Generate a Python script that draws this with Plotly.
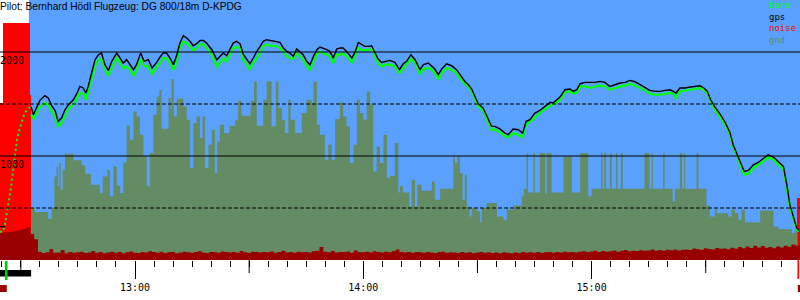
import numpy as np
import plotly.graph_objects as go

# ---------------- data (time = minutes after 12:00, altitude in m) ----------------
t_start, t_end = 24.52, 234.77
hour_ticks = [60, 120, 180]
hour_labels = ["13:00", "14:00", "15:00"]
half_hour_ticks = [30, 90, 150, 210]

title_text = "Pilot: Bernhard Hödl Flugzeug: DG 800/18m D-KPDG"
legend_items = ["baro", "gps", "noise", "gnd"]

grid_solid = [1000, 2000]
grid_dashed = [500, 1500]
alt_labels = [1000, 2000]          # 500 / 1500 labels are hidden under the engine block

flight_window = [32.1, 234.77]     # blue sky background

# self-launch climb (baro, dotted)
climb_t = [24.5, 25.3, 25.8, 26.4, 26.9, 27.4, 27.9, 28.5, 29.0, 29.5, 30.0, 30.6, 31.1, 31.9, 32.4]
climb_baro = [272, 272, 339, 464, 580, 695, 849, 1012, 1157, 1234, 1301, 1368, 1416, 1455, 1474]
gps_ground_t = [24.5, 25.8]
gps_ground = [320, 320]

flight_t = [
    32.7, 33.3, 34.2, 35.0, 36.3, 37.2, 38.1, 39.0, 39.8, 40.7, 41.6, 42.5, 43.8, 44.7, 45.5, 46.4,
    47.1, 47.7, 48.6, 49.5, 50.4, 51.2, 52.1, 53.0, 53.9, 55.2, 56.1, 56.9, 57.8, 58.7, 59.6, 60.4,
    61.5, 62.4, 63.5, 64.5, 65.7, 66.6, 67.4, 68.3, 69.2, 70.1, 71.0, 71.8, 72.7, 73.6, 74.5, 75.3,
    76.2, 77.1, 78.0, 78.8, 80.2, 81.5, 82.3, 83.2, 84.1, 85.0, 85.8, 86.7, 87.6, 88.5, 89.4, 90.2,
    91.1, 92.0, 92.9, 93.7, 94.6, 95.9, 97.2, 98.1, 99.0, 99.9, 100.7, 101.6, 102.5, 103.4, 104.2,
    105.1, 106.0, 106.9, 107.8, 108.6, 109.5, 110.4, 111.2, 112.1, 113.0, 113.9, 114.7, 115.6, 117.0,
    117.8, 118.7, 119.6, 120.4, 121.3, 122.2, 123.1, 123.9, 124.8, 125.7, 127.0, 128.3, 129.5, 130.5,
    131.4, 132.5, 133.6, 134.9, 135.8, 137.1, 138.0, 138.8, 139.7, 140.6, 141.9, 143.2, 144.5, 145.4,
    146.7, 147.6, 148.5, 149.4, 150.2, 151.5, 152.6, 153.7, 154.6, 155.9, 157.2, 158.1, 159.4, 160.7,
    161.9, 162.8, 163.8, 165.1, 166.4, 167.8, 169.1, 169.9, 170.8, 171.7, 173.0, 174.3, 175.2, 176.1,
    177.0, 178.3, 179.6, 180.9, 182.2, 183.5, 184.8, 186.2, 187.5, 188.8, 190.1, 191.4, 192.7, 194.0,
    195.3, 196.7, 198.0, 199.3, 200.6, 201.5, 202.2, 203.2, 204.5, 205.9, 207.2, 208.5, 209.5, 210.4,
    211.3, 212.4, 213.7, 215.1, 216.4, 217.2, 218.1, 219.0, 220.1, 221.2, 222.5, 223.8, 225.1, 226.4,
    227.8, 229.1, 230.4, 231.3, 232.1, 233.0, 233.9, 234.5]
baro = [
    1397, 1356, 1413, 1471, 1510, 1493, 1429, 1381, 1285, 1317, 1381, 1452, 1493, 1548, 1606, 1599,
    1541, 1621, 1734, 1861, 1926, 1933, 1830, 1772, 1846, 1942, 1894, 1846, 1861, 1830, 1772, 1823,
    1933, 1861, 1861, 1791, 1856, 1894, 1942, 1942, 1894, 1830, 1910, 2038, 2102, 2086, 2048, 2015,
    2038, 2080, 2070, 2038, 1974, 1861, 1894, 1942, 1910, 1974, 2038, 2048, 2038, 1926, 1878, 1836,
    1894, 1942, 1990, 2054, 2070, 2060, 2054, 2038, 2006, 1958, 1942, 1933, 1990, 1952, 1926,
    1861, 1830, 1910, 1974, 2006, 1990, 1974, 1958, 1894, 1974, 1974, 1990, 1958, 1900,
    1958, 2038, 2022, 2015, 2022, 2029, 1958, 1894, 1861, 1878, 1878, 1861, 1798, 1846,
    1878, 1933, 1894, 1791, 1836, 1846, 1830, 1798, 1734, 1798, 1846, 1830, 1798, 1750,
    1695, 1669, 1621, 1548, 1477, 1438, 1349, 1253, 1253, 1227, 1188, 1183, 1221, 1205,
    1183, 1301, 1333, 1381, 1413, 1452, 1484, 1493, 1516, 1541, 1612, 1621, 1599, 1606,
    1669, 1669, 1654, 1669, 1679, 1669, 1637, 1654, 1669, 1676, 1695, 1676, 1654, 1631,
    1599, 1589, 1589, 1599, 1606, 1599, 1558, 1621, 1631, 1637, 1644, 1654, 1637, 1606,
    1525, 1445, 1381, 1301, 1205, 1092, 1012, 933, 820, 830, 885, 916, 948, 990,
    964, 916, 875, 708, 515, 404, 291, 275]
gps = [
    1471, 1397, 1471, 1535, 1580, 1558, 1484, 1438, 1333, 1365, 1445, 1493, 1541, 1599, 1669, 1654,
    1606, 1669, 1798, 1926, 1974, 1990, 1878, 1823, 1910, 1990, 1942, 1894, 1926, 1878, 1830, 1878,
    1990, 1910, 1926, 1846, 1900, 1952, 1990, 1990, 1942, 1878, 1974, 2086, 2157, 2135, 2102, 2060,
    2080, 2111, 2111, 2086, 2022, 1926, 1952, 1990, 1964, 2038, 2086, 2102, 2080, 1974, 1926, 1887,
    1942, 2006, 2054, 2102, 2118, 2111, 2102, 2092, 2038, 2006, 1990, 1958, 2029, 1996, 1974,
    1910, 1878, 1958, 2022, 2048, 2038, 2022, 2006, 1942, 2029, 2038, 2038, 2006, 1942,
    1996, 2092, 2070, 2054, 2054, 2060, 1990, 1933, 1900, 1910, 1919, 1900, 1830, 1887,
    1910, 1974, 1926, 1830, 1878, 1894, 1868, 1836, 1782, 1836, 1887, 1868, 1830, 1782,
    1717, 1685, 1644, 1567, 1503, 1461, 1381, 1285, 1285, 1260, 1221, 1205, 1260, 1253,
    1221, 1333, 1349, 1413, 1438, 1477, 1516, 1510, 1541, 1567, 1637, 1644, 1621, 1637,
    1695, 1708, 1708, 1708, 1717, 1708, 1669, 1685, 1702, 1708, 1727, 1714, 1685, 1654,
    1631, 1621, 1621, 1631, 1637, 1621, 1606, 1654, 1654, 1663, 1669, 1676, 1654, 1621,
    1541, 1471, 1407, 1323, 1221, 1109, 1029, 948, 852, 862, 916, 938, 971, 1012,
    990, 948, 900, 724, 532, 419, 308, 285]

gnd_t = [
    32.7, 33.7, 37.2, 38.1, 38.8, 39.4, 39.8, 40.1, 40.5, 41.0, 41.6, 43.8, 46.0, 46.9, 48.4, 50.8,
    51.5, 52.7, 53.4, 54.3, 55.2, 56.1, 56.9, 57.8, 58.7, 59.6, 60.4, 61.3, 62.2, 63.1, 63.9, 64.8,
    65.7, 66.4, 67.0, 68.8, 69.4, 69.6, 70.2, 71.0, 72.7, 73.6, 74.5, 75.3, 76.2, 77.1, 77.8, 78.4,
    79.3, 80.2, 81.0, 81.6, 82.3, 83.4, 84.8, 86.3, 87.1, 88.0, 90.4, 91.3, 92.0, 93.7, 94.6, 95.9,
    97.0, 97.7, 98.6, 99.4, 100.3, 100.9, 102.1, 103.8, 105.1, 106.4, 106.9, 107.8, 108.6, 109.9,
    110.8, 111.7, 112.6, 113.9, 114.7, 115.6, 116.5, 117.4, 118.3, 119.1, 120.0, 120.9, 121.8, 122.6,
    123.5, 124.4, 125.3, 126.2, 127.0, 128.3, 129.2, 129.6, 130.4, 132.1, 132.7, 133.6, 134.2, 135.3,
    138.0, 138.8, 140.2, 143.7, 144.1, 144.7, 145.4, 146.1, 146.7, 147.2, 148.0, 148.5, 149.8, 150.7,
    151.1, 152.4, 155.1, 156.8, 157.7, 158.1, 159.4, 161.6, 162.2, 162.9, 163.3, 164.7, 165.1, 166.4,
    167.8, 168.2, 169.5, 172.6, 174.8, 177.0, 179.1, 180.0, 182.5, 182.9, 183.3, 183.8, 184.8, 185.3,
    186.4, 186.8, 187.7, 188.2, 193.9, 195.2, 195.8, 196.1, 198.8, 199.2, 201.3, 201.9, 203.2, 203.8,
    204.3, 204.6, 207.6, 208.1, 210.2, 211.1, 212.4, 212.9, 215.9, 216.8, 217.7, 218.6, 219.4, 220.3,
    224.3, 227.8, 229.1, 232.6, 233.5, 234.1]
gnd = [
    500, 461, 394, 500, 804, 900, 708, 933, 676, 868, 1022, 958, 910, 830, 724, 644,
    804, 868, 612, 900, 714, 644, 938, 1291, 1157, 1429, 1381, 1205, 996, 708, 1029, 1397,
    1573, 1637, 1262, 1558, 1445, 1740, 1381, 1551, 1477, 1349, 885, 1317, 1381, 1173, 1381, 885,
    1109, 1253, 837, 1140, 1301, 1221, 1291, 1349, 1532, 1387, 1532, 1717, 1291, 1541, 1717, 1285,
    1717, 1461, 1349, 1221, 1541, 1349, 1221, 1413, 1541, 1510, 1717, 1301, 1205, 964,
    1109, 964, 1356, 1516, 1381, 1285, 933, 1109, 1541, 1413, 1349, 1621, 1493, 852,
    1092, 933, 1205, 788, 811, 1125, 650, 708, 650, 515, 772, 515, 724, 666,
    756, 580, 686, 996, 933, 996, 837, 580, 820, 515, 419, 500, 468, 362,
    500, 548, 419, 387, 500, 484, 525, 612, 686, 1029, 650, 1029, 650, 1029,
    640, 1029, 650, 996, 650, 1029, 612, 686, 1029, 686, 1029, 686, 1029, 686,
    1029, 686, 1029, 686, 1029, 686, 1029, 686, 1029, 686, 564, 686, 1029, 686,
    1029, 686, 1029, 686, 525, 419, 500, 450, 419, 484, 450, 387, 484, 362,
    477, 323, 298, 260, 290, 0]

noise_t = list(np.arange(24.5, 235.0, 1.0))
noise = [
    262, 268, 270, 275, 282, 290, 300, 320, 250, 200,
    80, 68, 75, 105, 70, 72, 95, 66, 78, 70,
    74, 80, 68, 72, 86, 70, 76, 64, 72, 80,
    70, 78, 66, 74, 82, 70, 68, 76, 72, 84,
    76, 70, 80, 68, 74, 78, 66, 72, 80, 74,
    70, 76, 84, 72, 68, 78, 74, 70, 82, 76,
    72, 78, 70, 86, 74, 68, 80, 76, 72, 78,
    74, 82, 70, 76, 88, 72, 78, 70, 80, 74,
    78, 72, 84, 90, 125, 80, 74, 86, 72, 78,
    76, 82, 70, 92, 78, 74, 80, 72, 84, 76,
    72, 80, 74, 86, 100, 78, 72, 76, 70, 78,
    74, 70, 78, 72, 68, 76, 80, 70, 74, 72,
    68, 76, 70, 74, 66, 72, 78, 70, 74, 68,
    72, 66, 74, 70, 64, 72, 68, 76, 70, 74,
    70, 76, 68, 74, 78, 70, 76, 72, 80, 74,
    78, 72, 80, 84, 76, 82, 90, 78, 86, 80,
    84, 92, 80, 88, 96, 84, 90, 86, 94, 88,
    92, 100, 88, 96, 90, 98, 94, 102, 92, 98,
    100, 96, 110, 104, 98, 112, 106, 100, 116, 108,
    110, 104, 118, 108, 124, 112, 130, 116, 138, 120,
    134, 118, 126, 112, 130, 120, 138, 128, 150, 140,
    290]

# engine-noise blocks (bright red)
engine_start = [24.52, 25.3, 32.3, 234.1]
engine_end = [25.3, 32.3, 32.6, 234.77]
engine_level = [1513, 2280, 1590, 595]

# event marks below the time axis
engine_run = [24.52, 32.7]
launch_mark = [25.8, 26.5]
start_flag = [24.52, 26.3]
end_flag = [234.2, 234.77]
end_engine_mark = [234.1, 234.5]

# ---------------- styles ----------------
BLUE = "#5AA0FF"
GND = "#648C64"
DARKRED = "#990000"
RED = "#FF0000"
GREEN = "#00FF00"
MONO = "DejaVu Sans Mono"

fig = go.Figure()

fig.add_trace(go.Scatter(
    x=gnd_t, y=gnd, mode="lines", line=dict(shape="hv", width=0, color=GND),
    fill="tozeroy", fillcolor=GND, hoverinfo="skip", showlegend=False))

fig.add_trace(go.Bar(
    x=[(s + e) / 2 for s, e in zip(engine_start, engine_end)],
    y=engine_level,
    width=[e - s for s, e in zip(engine_start, engine_end)],
    marker=dict(color=RED, line=dict(width=0)), showlegend=False, hoverinfo="skip"))

fig.add_trace(go.Scatter(
    x=noise_t + [t_end], y=noise + [noise[-1]], mode="lines",
    line=dict(shape="hv", width=0, color=DARKRED),
    fill="tozeroy", fillcolor=DARKRED, hoverinfo="skip", showlegend=False))

fig.add_trace(go.Scatter(
    x=climb_t, y=climb_baro, mode="lines",
    line=dict(color=GREEN, width=2, dash="2px,3px"), showlegend=False))
fig.add_trace(go.Scatter(
    x=gps_ground_t, y=gps_ground, mode="lines",
    line=dict(color="black", width=1.5), showlegend=False))
fig.add_trace(go.Scatter(
    x=flight_t, y=baro, mode="lines", line=dict(color=GREEN, width=2.2), showlegend=False))
fig.add_trace(go.Scatter(
    x=flight_t, y=gps, mode="lines", line=dict(color="black", width=1.4), showlegend=False))

px = 1 / 260.0   # one pixel in paper units (plot area is 260 px tall)

shapes = []
shapes.append(dict(type="rect", xref="x", yref="paper", x0=flight_window[0], x1=flight_window[1],
                   y0=0, y1=1, fillcolor=BLUE, line=dict(width=0), layer="below"))
for v in grid_solid:
    shapes.append(dict(type="line", xref="paper", yref="y", x0=0, x1=1, y0=v, y1=v,
                       line=dict(color="black", width=1), layer="above"))
for v in grid_dashed:
    shapes.append(dict(type="line", xref="paper", yref="y", x0=0, x1=1, y0=v, y1=v,
                       line=dict(color="black", width=1, dash="4px,2px"), layer="above"))
# half-hour ticks (medium length)
for v in half_hour_ticks:
    shapes.append(dict(type="line", xref="x", yref="paper", x0=v, x1=v, y0=0, y1=-13 * px,
                       line=dict(color="black", width=1)))

# marks below axis
shapes.append(dict(type="rect", xref="x", yref="paper", x0=engine_run[0], x1=engine_run[1],
                   y0=-16.5 * px, y1=-10 * px, fillcolor="black", line=dict(width=0)))
shapes.append(dict(type="rect", xref="x", yref="paper", x0=launch_mark[0], x1=launch_mark[1],
                   y0=-20 * px, y1=-1 * px, fillcolor="#00CC00", line=dict(width=0)))
shapes.append(dict(type="rect", xref="x", yref="paper", x0=start_flag[0], x1=start_flag[1],
                   y0=-32 * px, y1=-25 * px, fillcolor=DARKRED, line=dict(width=0)))
shapes.append(dict(type="rect", xref="x", yref="paper", x0=end_flag[0], x1=end_flag[1],
                   y0=-32 * px, y1=-25 * px, fillcolor=DARKRED, line=dict(width=0)))
shapes.append(dict(type="rect", xref="x", yref="paper", x0=end_engine_mark[0], x1=end_engine_mark[1],
                   y0=-19 * px, y1=0, fillcolor=RED, line=dict(width=0)))

annotations = []
annotations.append(dict(text=title_text, xref="paper", yref="paper", x=0, y=1 - 6 * px,
                        xanchor="left", yanchor="middle", xshift=-2, showarrow=False,
                        font=dict(family="Liberation Sans", size=10.2, color="black")))
for v in alt_labels:
    annotations.append(dict(text=str(v), xref="paper", yref="y", x=0, y=v, xanchor="left",
                            yanchor="top", xshift=-2, yshift=-1, showarrow=False,
                            font=dict(family=MONO, size=10, color="black")))
legend_colors = [GREEN, "black", RED, GND]
legend_html = "<br>".join(
    '<span style="color:%s">%s</span>' % (c, n) for n, c in zip(legend_items, legend_colors))
annotations.append(dict(text=legend_html, xref="paper", yref="paper", x=768 / 800, y=1,
                        xanchor="left", yanchor="top", align="left", showarrow=False,
                        borderpad=0, yshift=1,
                        font=dict(family=MONO, size=9, color="black")))

fig.update_layout(
    width=800, height=300,
    margin=dict(l=0, r=0, t=0, b=40, pad=0),
    paper_bgcolor="white", plot_bgcolor="white",
    bargap=0, showlegend=False,
    shapes=shapes, annotations=annotations,
    xaxis=dict(range=[t_start, t_end], showgrid=False, zeroline=False, showline=False,
               tickmode="array", tickvals=hour_ticks, ticktext=hour_labels,
               ticks="outside", ticklen=18, tickwidth=1, tickcolor="black",
               tickfont=dict(family=MONO, size=10, color="black"),
               minor=dict(tickmode="linear", tick0=0, dtick=5, ticks="outside", ticklen=6,
                          tickwidth=1, tickcolor="black", showgrid=False)),
    yaxis=dict(range=[0, 2500], showgrid=False, zeroline=False, showline=False,
               showticklabels=False, ticks=""),
)

fig.write_html("out.html")
